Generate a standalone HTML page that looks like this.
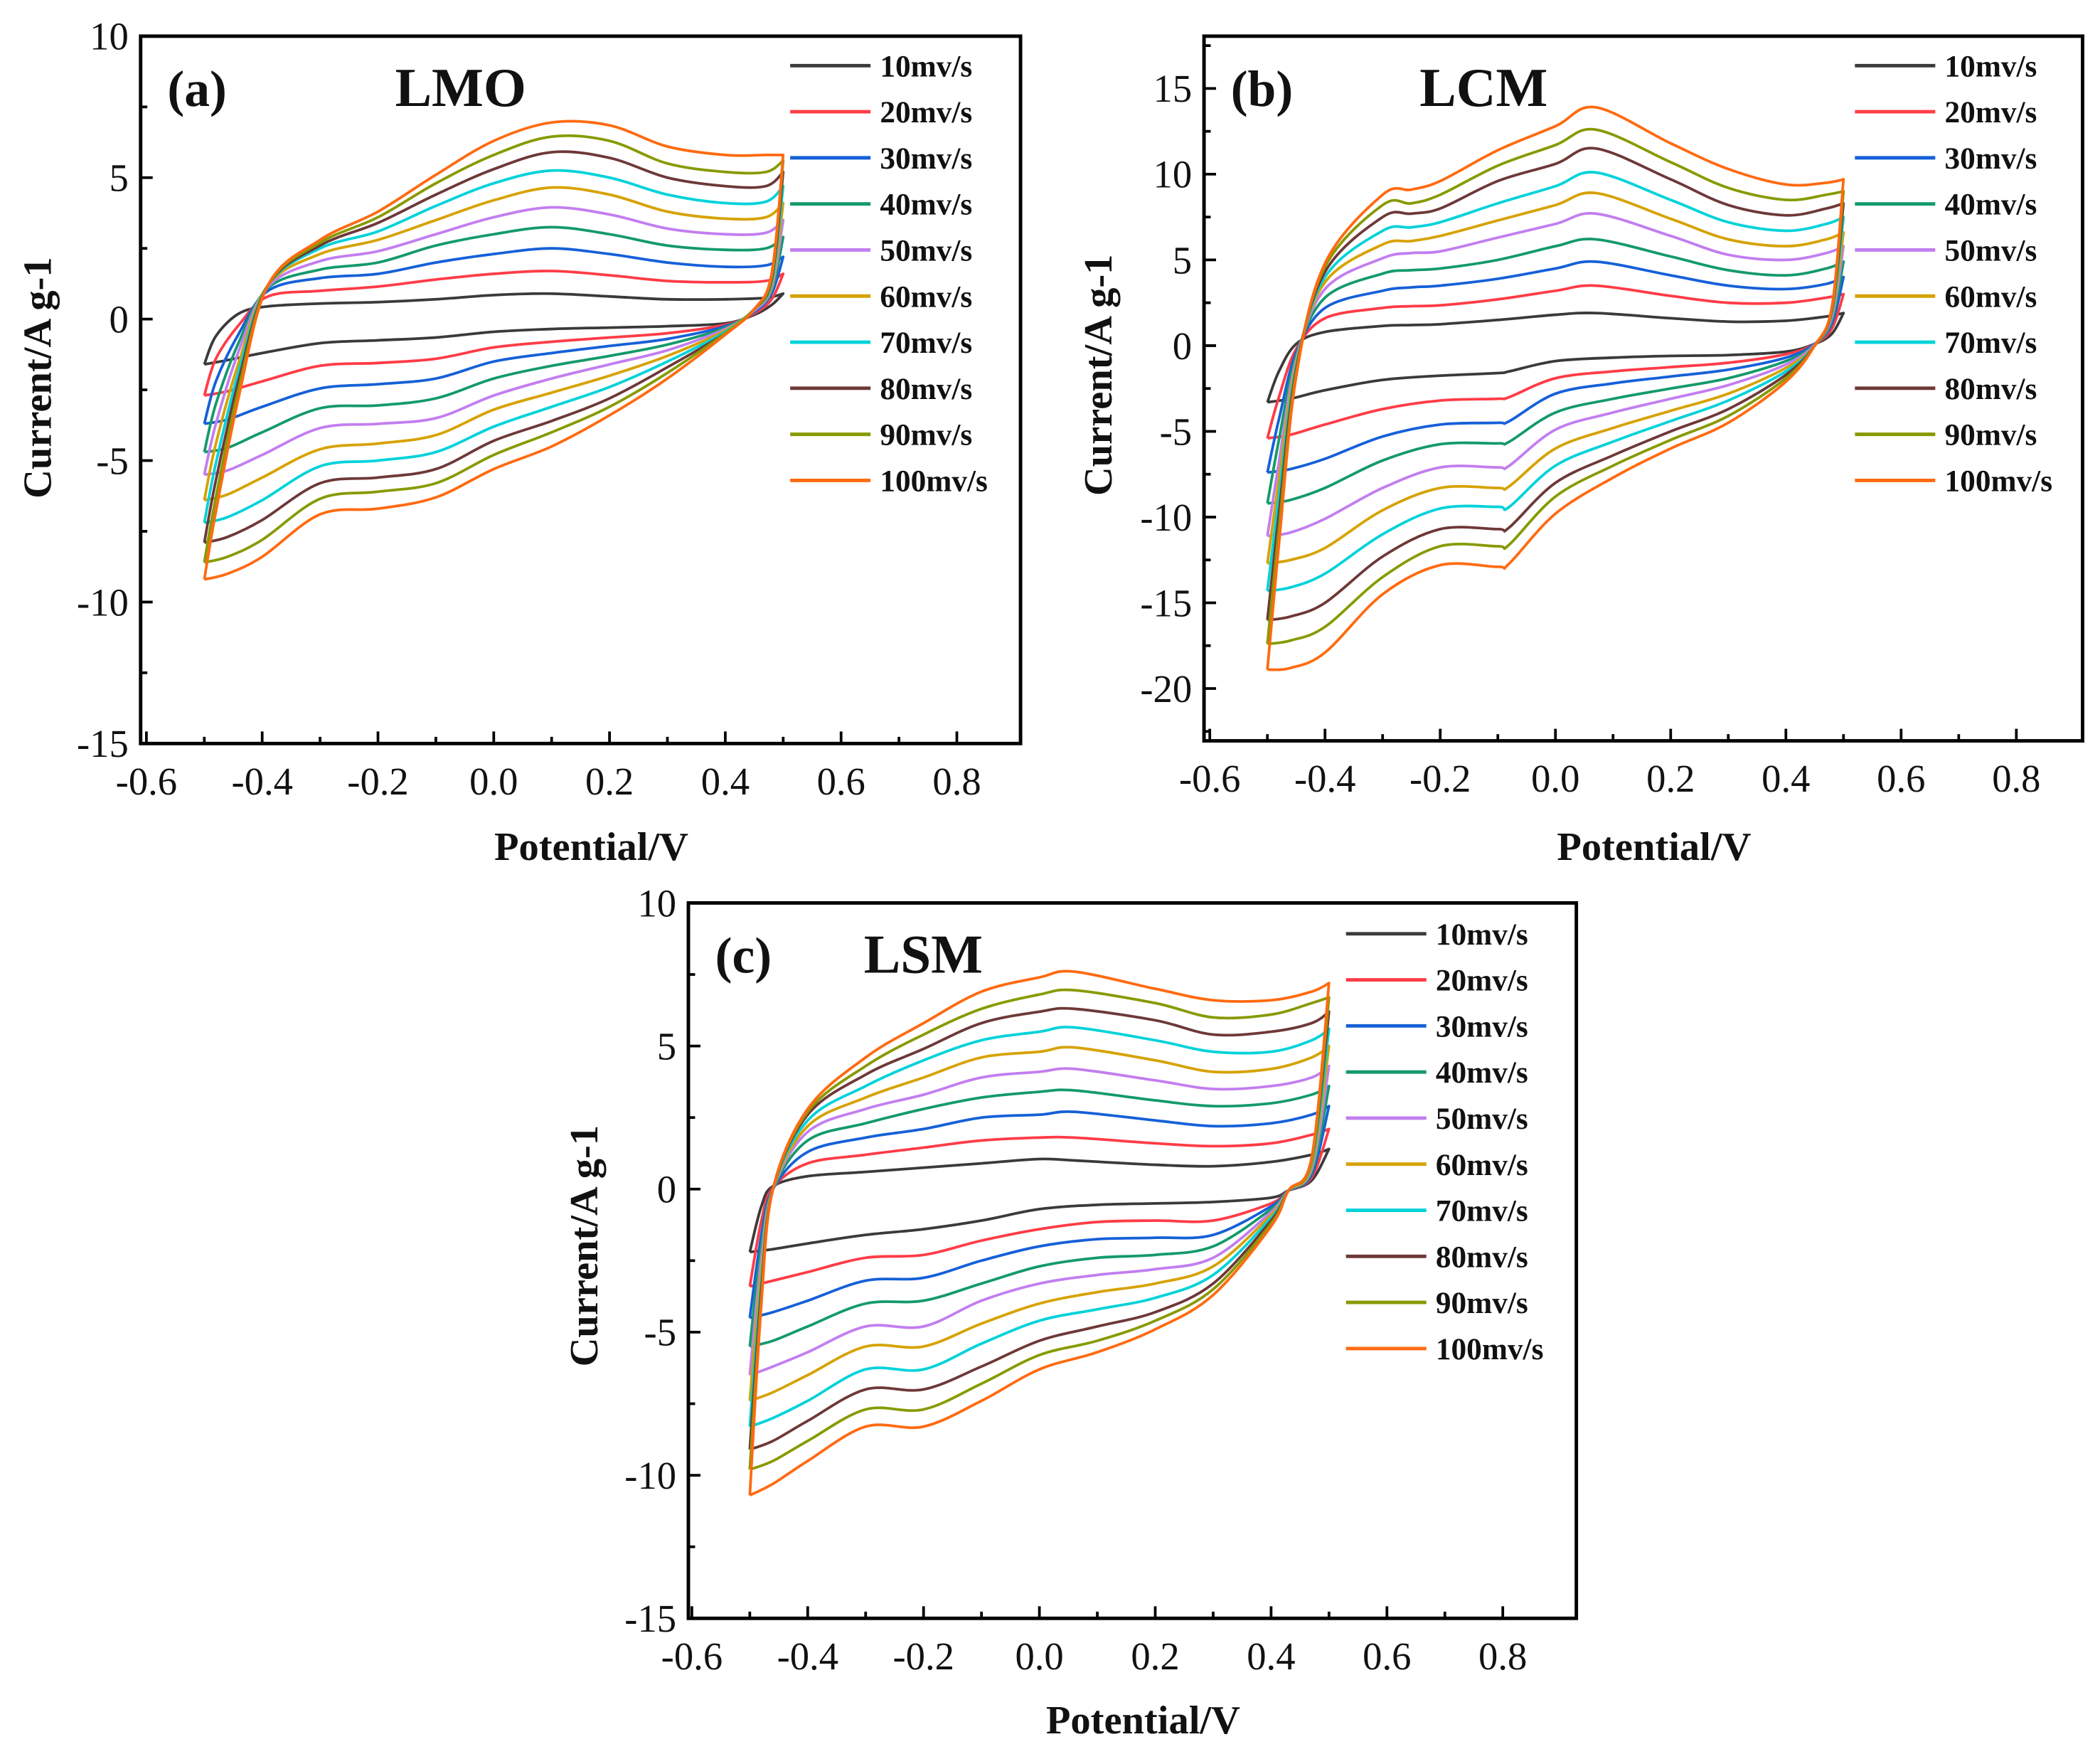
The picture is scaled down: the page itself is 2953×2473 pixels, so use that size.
<!DOCTYPE html>
<html><head><meta charset="utf-8">
<style>
html,body{margin:0;padding:0;background:#fff;}
svg{display:block;}
text{font-family:"Liberation Serif",serif;fill:#111;}
</style></head>
<body>
<svg id="fig" width="2953" height="2473" viewBox="0 0 1568 1313" preserveAspectRatio="none" xmlns="http://www.w3.org/2000/svg"></svg>
<script>
// ---------- data ----------
const seriesLabels = ["10mv/s","20mv/s","30mv/s","40mv/s","50mv/s","60mv/s","70mv/s","80mv/s","90mv/s","100mv/s"];
const seriesColors = ["#3a3a3a","#ff3c46","#1560d8","#139a6a","#c27ef0","#d6a200","#00d2da","#6e3838","#879a00","#ff6a10"];
const xTicks = [-0.6,-0.4,-0.2,0.0,0.2,0.4,0.6,0.8];
const xTickLabels = ["-0.6","-0.4","-0.2","0.0","0.2","0.4","0.6","0.8"];

// LMO (a)
const lmoYTicks = [10,5,0,-5,-10,-15];
const lmoUpX = [-0.5,-0.48,-0.44,-0.39,-0.3,-0.2,-0.1,0,0.1,0.2,0.3,0.4,0.47,0.5];
const lmoUpVals = [
 [-1.6,-2.7,-3.7,-4.7,-5.5,-6.4,-7.2,-7.9,-8.6,-9.2],
 [-0.6,-1.4,-2.2,-3.0,-3.7,-4.4,-5.1,-5.7,-6.3,-6.8],
 [0.2,-0.2,-0.5,-0.8,-1.1,-1.5,-1.8,-2.1,-2.4,-2.7],
 [0.45,0.8,1.0,1.1,1.15,1.2,1.2,1.2,1.2,1.2],
 [0.55,1.0,1.45,1.75,2.05,2.3,2.5,2.6,2.7,2.8],
 [0.6,1.15,1.6,2.0,2.4,2.8,3.1,3.4,3.6,3.8],
 [0.7,1.4,2.0,2.6,3.0,3.5,4.0,4.4,4.8,5.1],
 [0.85,1.6,2.3,3.0,3.6,4.2,4.8,5.3,5.8,6.3],
 [0.9,1.7,2.5,3.25,3.95,4.65,5.25,5.9,6.45,6.95],
 [0.8,1.55,2.3,3.0,3.7,4.4,5.0,5.7,6.3,6.85],
 [0.7,1.35,2.0,2.6,3.2,3.8,4.4,5.0,5.5,6.1],
 [0.7,1.3,1.85,2.45,3.0,3.55,4.1,4.7,5.2,5.8],
 [0.75,1.35,1.9,2.5,3.05,3.6,4.15,4.7,5.2,5.8],
 [0.9,1.6,2.2,2.9,3.5,4.1,4.7,5.2,5.6,5.8]];
const lmoLoX = [0.5,0.48,0.45,0.4,0.3,0.2,0.1,0,-0.1,-0.2,-0.3,-0.4,-0.46,-0.5];
const lmoLoVals = [
 [0.9,1.6,2.2,2.9,3.5,4.1,4.7,5.2,5.6,5.8],
 [0.5,0.7,0.9,1.0,1.1,1.2,1.3,1.4,1.5,1.6],
 [0.15,0.2,0.25,0.3,0.3,0.35,0.35,0.35,0.35,0.35],
 [-0.15,-0.2,-0.25,-0.3,-0.35,-0.4,-0.45,-0.5,-0.5,-0.55],
 [-0.25,-0.5,-0.7,-0.9,-1.1,-1.3,-1.5,-1.7,-1.9,-2.1],
 [-0.3,-0.65,-0.95,-1.3,-1.6,-2.0,-2.4,-2.8,-3.1,-3.4],
 [-0.35,-0.8,-1.2,-1.65,-2.1,-2.6,-3.1,-3.6,-4.0,-4.5],
 [-0.45,-1.0,-1.5,-2.1,-2.7,-3.2,-3.8,-4.3,-4.8,-5.3],
 [-0.65,-1.4,-2.1,-2.8,-3.5,-4.1,-4.7,-5.3,-5.8,-6.3],
 [-0.75,-1.55,-2.3,-3.05,-3.7,-4.4,-5.0,-5.6,-6.1,-6.7],
 [-0.85,-1.65,-2.45,-3.15,-3.85,-4.6,-5.2,-5.8,-6.35,-6.9],
 [-1.2,-2.2,-3.1,-4.0,-4.8,-5.6,-6.4,-7.1,-7.8,-8.4],
 [-1.45,-2.55,-3.55,-4.55,-5.35,-6.2,-7.0,-7.7,-8.4,-9.0],
 [-1.6,-2.7,-3.7,-4.7,-5.5,-6.4,-7.2,-7.9,-8.6,-9.2]];

// LCM (b)
const lcmYTicks = [15,10,5,0,-5,-10,-15,-20];
const lcmUpX = [-0.5,-0.48,-0.45,-0.4,-0.3,-0.25,-0.2,-0.1,0,0.07,0.2,0.3,0.4,0.47,0.5];
const lcmUpVals = [
 [-3.3,-5.4,-7.4,-9.2,-11.1,-12.7,-14.3,-16.0,-17.4,-18.9],
 [-1.5,-3.0,-4.3,-5.5,-6.8,-7.8,-8.8,-9.8,-10.7,-11.6],
 [0.1,-0.2,-0.4,-0.6,-0.8,-1.0,-1.2,-1.4,-1.6,-1.8],
 [0.8,1.6,2.2,2.8,3.3,3.7,4.0,4.3,4.6,4.8],
 [1.15,2.2,3.2,4.2,5.1,5.9,6.7,7.5,8.2,8.8],
 [1.2,2.3,3.4,4.4,5.4,6.1,6.9,7.7,8.3,9.1],
 [1.25,2.35,3.5,4.5,5.5,6.4,7.2,8.0,8.8,9.6],
 [1.5,2.7,3.9,5.0,6.3,7.3,8.3,9.6,10.5,11.4],
 [1.8,3.2,4.5,5.8,7.1,8.2,9.3,10.6,11.7,12.8],
 [1.9,3.5,4.9,6.2,7.7,8.9,10.1,11.5,12.6,13.9],
 [1.6,2.9,4.1,5.2,6.4,7.4,8.5,9.7,10.7,11.8],
 [1.4,2.5,3.5,4.4,5.3,6.2,7.2,8.2,9.2,10.3],
 [1.45,2.5,3.3,4.1,5.0,5.8,6.7,7.6,8.5,9.4],
 [1.7,2.8,3.6,4.5,5.4,6.2,7.1,8.0,8.8,9.5],
 [1.9,3.0,4.0,4.9,5.8,6.6,7.5,8.3,9.0,9.7]];
const lcmLoX = [0.5,0.48,0.45,0.4,0.3,0.2,0.1,0,-0.08,-0.1,-0.2,-0.3,-0.4,-0.46,-0.5];
const lcmLoVals = [
 [1.9,3.0,4.0,4.9,5.8,6.6,7.5,8.3,9.0,9.7],
 [0.7,1.0,1.3,1.5,1.7,1.9,2.0,2.1,2.2,2.3],
 [0.1,0.1,0.1,0.05,0.05,0,0,0,0,0],
 [-0.35,-0.5,-0.7,-0.9,-1.1,-1.3,-1.5,-1.7,-1.9,-2.1],
 [-0.55,-1.0,-1.4,-1.9,-2.3,-2.8,-3.2,-3.7,-4.1,-4.5],
 [-0.6,-1.25,-1.8,-2.5,-3.1,-3.8,-4.4,-5.0,-5.5,-6.0],
 [-0.7,-1.5,-2.2,-3.1,-3.9,-4.8,-5.6,-6.4,-7.0,-7.7],
 [-0.9,-1.9,-2.8,-3.9,-4.9,-6.0,-7.0,-8.0,-8.8,-9.8],
 [-1.5,-3.0,-4.4,-5.6,-7.0,-8.2,-9.4,-10.6,-11.6,-12.7],
 [-1.6,-3.1,-4.5,-5.7,-7.1,-8.3,-9.4,-10.7,-11.7,-12.9],
 [-1.75,-3.2,-4.6,-5.75,-7.1,-8.3,-9.5,-10.7,-11.7,-12.8],
 [-2.0,-3.7,-5.3,-6.7,-8.3,-9.6,-11.0,-12.3,-13.5,-14.5],
 [-2.6,-4.6,-6.6,-8.3,-10.1,-11.8,-13.3,-15.0,-16.4,-17.9],
 [-3.1,-5.2,-7.2,-9.0,-10.9,-12.5,-14.1,-15.8,-17.2,-18.8],
 [-3.3,-5.4,-7.4,-9.2,-11.1,-12.7,-14.3,-16.0,-17.4,-18.9]];

// LSM (c)
const lsmYTicks = [10,5,0,-5,-10,-15];
const lsmUpX = [-0.5,-0.48,-0.46,-0.4,-0.3,-0.2,-0.1,0,0.06,0.2,0.3,0.4,0.47,0.5];
const lsmUpVals = [
 [-2.2,-3.4,-4.5,-5.5,-6.5,-7.4,-8.3,-9.1,-9.8,-10.7],
 [-0.6,-1.1,-1.6,-2.0,-2.4,-2.8,-3.2,-3.5,-3.8,-4.0],
 [0.1,0.05,0,0,0,0,0,0,0,0],
 [0.45,0.9,1.3,1.7,2.0,2.2,2.4,2.6,2.7,2.8],
 [0.6,1.2,1.8,2.3,2.8,3.2,3.6,4.0,4.3,4.6],
 [0.75,1.45,2.1,2.8,3.3,3.9,4.5,4.9,5.4,5.8],
 [0.9,1.7,2.5,3.2,3.9,4.6,5.2,5.8,6.3,6.9],
 [1.05,1.8,2.6,3.4,4.1,4.8,5.5,6.2,6.8,7.4],
 [1.0,1.8,2.7,3.45,4.2,4.95,5.65,6.3,6.95,7.6],
 [0.85,1.6,2.4,3.1,3.8,4.5,5.2,5.9,6.5,7.0],
 [0.8,1.5,2.2,2.9,3.5,4.1,4.8,5.4,6.0,6.6],
 [0.95,1.6,2.3,3.0,3.6,4.2,4.8,5.5,6.1,6.6],
 [1.2,1.9,2.6,3.3,3.9,4.6,5.2,5.8,6.5,6.9],
 [1.4,2.1,2.9,3.6,4.3,5.0,5.6,6.2,6.7,7.2]];
const lsmLoX = [0.5,0.47,0.43,0.4,0.3,0.2,0.1,0,-0.1,-0.2,-0.3,-0.4,-0.46,-0.5];
const lsmLoVals = [
 [1.4,2.1,2.9,3.6,4.3,5.0,5.6,6.2,6.7,7.2],
 [0.3,0.4,0.5,0.6,0.7,0.8,0.9,1.0,1.0,1.1],
 [-0.05,-0.05,-0.05,-0.05,-0.05,-0.05,-0.05,-0.05,-0.05,-0.05],
 [-0.3,-0.5,-0.6,-0.7,-0.8,-0.9,-1.0,-1.1,-1.2,-1.3],
 [-0.45,-1.1,-1.6,-2.0,-2.4,-2.7,-3.0,-3.3,-3.5,-3.7],
 [-0.5,-1.1,-1.7,-2.3,-2.8,-3.3,-3.8,-4.3,-4.6,-4.9],
 [-0.55,-1.15,-1.75,-2.4,-3.0,-3.6,-4.2,-4.8,-5.3,-5.7],
 [-0.7,-1.4,-2.0,-2.7,-3.3,-4.0,-4.6,-5.3,-5.8,-6.3],
 [-1.1,-1.8,-2.5,-3.3,-3.9,-4.7,-5.4,-6.2,-6.8,-7.4],
 [-1.4,-2.3,-3.1,-3.9,-4.8,-5.5,-6.3,-7.0,-7.7,-8.3],
 [-1.6,-2.4,-3.2,-4.0,-4.8,-5.5,-6.3,-7.0,-7.7,-8.3],
 [-1.9,-2.9,-3.9,-4.8,-5.7,-6.5,-7.4,-8.1,-8.8,-9.5],
 [-2.1,-3.2,-4.3,-5.3,-6.2,-7.1,-8.0,-8.8,-9.5,-10.3],
 [-2.2,-3.4,-4.5,-5.5,-6.5,-7.4,-8.3,-9.1,-9.8,-10.7]];

// ---------- drawing ----------
const NS = "http://www.w3.org/2000/svg";
const svg = document.getElementById('fig');
function mk(tag, attrs, parent){ const e=document.createElementNS(NS,tag); for(const k in attrs) e.setAttribute(k,attrs[k]); (parent||svg).appendChild(e); return e; }
function smoothPath(pts){
  let d = "M"+pts[0][0].toFixed(2)+","+pts[0][1].toFixed(2);
  for(let i=0;i<pts.length-1;i++){
    const p0=pts[Math.max(0,i-1)], p1=pts[i], p2=pts[i+1], p3=pts[Math.min(pts.length-1,i+2)];
    const c1=[p1[0]+(p2[0]-p0[0])/6, p1[1]+(p2[1]-p0[1])/6];
    const c2=[p2[0]-(p3[0]-p1[0])/6, p2[1]-(p3[1]-p1[1])/6];
    d += " C"+c1[0].toFixed(2)+","+c1[1].toFixed(2)+" "+c2[0].toFixed(2)+","+c2[1].toFixed(2)+" "+p2[0].toFixed(2)+","+p2[1].toFixed(2);
  }
  return d;
}
function panel(cfg){
  const g = mk('g',{});
  
  
  const {L,R,T,B,xmin,xmax,ymin,ymax} = cfg;
  const sx = v => L + (v - xmin)/(xmax - xmin)*(R - L);
  const sy = v => B - (v - ymin)/(ymax - ymin)*(B - T);
  for(let s=0;s<10;s++){
    const pts=[];
    cfg.upX.forEach((x,i)=>pts.push([sx(x), sy(cfg.upVals[i][s])]));
    const pts2=[];
    cfg.loX.forEach((x,i)=>pts2.push([sx(x), sy(cfg.loVals[i][s])]));
    const p = mk('path',{d:smoothPath(pts)+" "+smoothPath(pts2).replace(/^M/,"L"), fill:"none", stroke:seriesColors[s], 'stroke-width':2, 'stroke-linejoin':'round'}, g);
    
    
  }
  const fr = mk('rect',{x:L,y:T,width:R-L,height:B-T,fill:"none",stroke:"#000","stroke-width":2.6}, g);
  
  
  xTicks.forEach((v,i)=>{
    const x=sx(v);
    mk('line',{x1:x,y1:B,x2:x,y2:B-9,stroke:"#000","stroke-width":2},g);
    if(i<xTicks.length-1){ const xm=sx(v+0.1); mk('line',{x1:xm,y1:B,x2:xm,y2:B-5,stroke:"#000","stroke-width":2},g); }
    const t = mk('text',{x:x,y:B+38,'text-anchor':'middle','font-size':29},g);
    t.textContent = xTickLabels[i];
    
    
  });
  const ys = cfg.yTicks;
  const step = ys[0]-ys[1];
  ys.forEach((v)=>{
    const y=sy(v);
    mk('line',{x1:L,y1:y,x2:L+9,y2:y,stroke:"#000","stroke-width":2},g);
    const ym=sy(v-step/2);
    if(v-step/2>ymin) mk('line',{x1:L,y1:ym,x2:L+5,y2:ym,stroke:"#000","stroke-width":2},g);
    const t = mk('text',{x:L-9,y:y+10,'text-anchor':'end','font-size':29},g);
    t.textContent = String(v);
    
    
  });
  if(ys[0]+step/2<ymax){ const ym=sy(ys[0]+step/2); mk('line',{x1:L,y1:ym,x2:L+5,y2:ym,stroke:"#000","stroke-width":2},g); }
  const xt = mk('text',{x:(L+R)/2+8,y:cfg.xTitleY,'text-anchor':'middle','font-size':30,'font-weight':'bold'},g);
  xt.textContent = "Potential/V";
  
  
  const yt = mk('text',{x:0,y:0,'text-anchor':'middle','font-size':30,'font-weight':'bold',transform:`translate(${cfg.yTitleX},${cfg.yTitleY}) rotate(-90)`},g);
  yt.textContent = "Current/A g-1";
  
  
  const pl = mk('text',{x:L+20,y:T+52,'font-size':38,'font-weight':'bold'},g);
  pl.textContent = cfg.tag;
  
  
  const nm = mk('text',{x:cfg.nameX,y:T+52,'font-size':41,'font-weight':'bold'},g);
  nm.textContent = cfg.name;
  
  
  const lg = mk('g',{},g);
  
  
  for(let s=0;s<10;s++){
    const y = cfg.legY + s*34.4;
    const e = mk('g',{},lg);
    
    
    mk('line',{x1:cfg.legX,y1:y,x2:cfg.legX+60,y2:y,stroke:seriesColors[s],'stroke-width':2.6},e);
    const t = mk('text',{x:cfg.legX+67,y:y+8,'font-size':23,'font-weight':'bold'},e);
    t.textContent = seriesLabels[s];
  }
}
panel({id:'lmo',tag:'(a)',name:'LMO',nameX:295,L:105,R:762,T:27,B:555,xmin:-0.61,xmax:0.91,ymin:-15,ymax:10,yTicks:lmoYTicks,
  upX:lmoUpX,upVals:lmoUpVals,loX:lmoLoX,loVals:lmoLoVals,xTitleY:642,yTitleX:38,yTitleY:282,legX:590,legY:49});
panel({id:'lcm',tag:'(b)',name:'LCM',nameX:1060,L:899,R:1555,T:27,B:553,xmin:-0.61,xmax:0.915,ymin:-23.05,ymax:18.05,yTicks:lcmYTicks,
  upX:lcmUpX,upVals:lcmUpVals,loX:lcmLoX,loVals:lcmLoVals,xTitleY:642,yTitleX:830,yTitleY:280,legX:1385,legY:49});
panel({id:'lsm',tag:'(c)',name:'LSM',nameX:645,L:514,R:1177,T:674,B:1208,xmin:-0.606,xmax:0.927,ymin:-15,ymax:10,yTicks:lsmYTicks,
  upX:lsmUpX,upVals:lsmUpVals,loX:lsmLoX,loVals:lsmLoVals,xTitleY:1294,yTitleX:446,yTitleY:930,legX:1005,legY:697});
</script>
</body></html>
